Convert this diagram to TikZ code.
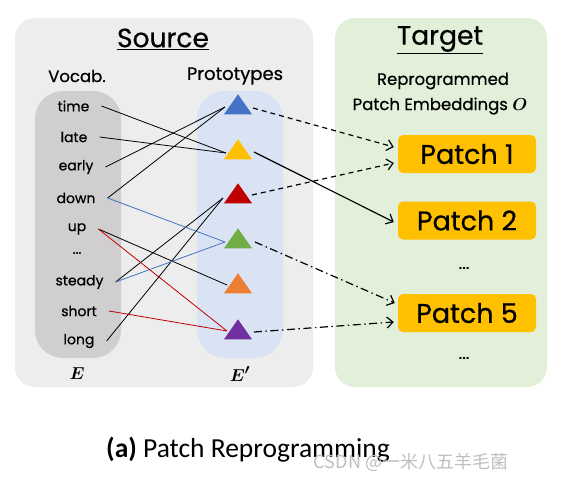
\documentclass[tikz,border=0pt]{standalone}
\usepackage{fontspec}
\usepackage{bm}
\setmainfont{Poppins}[FakeBold=0.6]
\newfontfamily\capfont{Carlito}
\newfontfamily\cjkfont{Noto Sans CJK SC}
\usetikzlibrary{arrows.meta,shapes.geometric,calc}
\definecolor{srcgray}{HTML}{EDEDED}
\definecolor{vocgray}{HTML}{D0CECE}
\definecolor{protoblue}{HTML}{DAE3F3}
\definecolor{tgtgreen}{HTML}{E2F0D9}
\definecolor{patchy}{HTML}{FFC000}
\definecolor{tblue}{HTML}{4472C4}
\definecolor{tyellow}{HTML}{FFC000}
\definecolor{tred}{HTML}{C00000}
\definecolor{tgreen}{HTML}{70AD47}
\definecolor{torange}{HTML}{ED7D31}
\definecolor{tpurple}{HTML}{7030A0}
\begin{document}
\begin{tikzpicture}[x=1pt,y=-1pt,
  panel/.style={rounded corners=20pt, draw=none, inner sep=0pt},
  colbox/.style={rounded corners=28pt, draw=none, inner sep=0pt, minimum width=86pt, minimum height=267pt},
  title/.style={font=\fontsize{26.5}{30}\selectfont, inner sep=0pt},
  head/.style={font=\fontsize{16.5}{19}\selectfont, inner sep=0pt},
  word/.style={font=\fontsize{14}{16}\selectfont, inner ysep=0pt, inner xsep=12pt},
  tri/.style={isosceles triangle, isosceles triangle apex angle=70, isosceles triangle stretches,
    shape border rotate=90, minimum width=28pt, minimum height=20pt, inner sep=0pt, fill=#1, draw=none},
  patch/.style={fill=patchy, rounded corners=5pt, minimum width=138pt, minimum height=38pt, inner sep=0pt,
    font=\fontsize{27}{30}\selectfont},
  link/.style={line width=0.8pt},
  arr/.style={line width=1.2pt, -{Straight Barb[length=6pt,width=11pt]}},
  dsh/.style={arr, dash pattern=on 5pt off 4pt},
  dshdot/.style={arr, dash pattern=on 8pt off 3.5pt on 1.5pt off 3.5pt},
  mathlbl/.style={inner sep=0pt, font=\fontsize{19}{22}\selectfont}
]
\useasboundingbox (0,0) rectangle (570,482);
\fill[white] (0,0) rectangle (570,482);

% panels
\node[panel, fill=srcgray, minimum width=298pt, minimum height=369pt] (src) at (164,202.5) {};
\node[panel, fill=tgtgreen, minimum width=212pt, minimum height=369pt] (tgt) at (441,202.5) {};
\node[colbox, fill=vocgray] (vbox) at (78,224.5) {};
\node[colbox, fill=protoblue] (pbox) at (240,224.5) {};

% titles
\node[title] (srct) at (163,39) {\underline{Source}};
\node[title] (tgtt) at (440,40) {\underline{Target}};
\node[head] (voc) at (77,76) {Vocab.};
\node[head, font=\fontsize{18}{20}\selectfont] (pro) at (235,76) {Prototypes};
\node[head] (rep1) at (443,81) {Reprogrammed};
\node[head] (rep2) at (440,106) {Patch Embeddings $\bm{O}$};
\node[mathlbl] (E) at (77,374) {$\bm{E}$};
\node[mathlbl] (Ep) at (240,374) {$\bm{E'}$};

% words
\node[word] (time) at (73.5,106) {time};
\node[word] (late) at (74,137) {late};
\node[word] (early) at (76,167) {early};
\node[word] (down) at (76,198) {down};
\node[word] (up) at (77,229) {up};
\node[word] (wdots) at (77,253) {...};
\node[word] (steady) at (79.5,282) {steady};
\node[word] (short) at (79,311) {short};
\node[word] (long) at (79,341) {long};

% triangles
\node[tri=tblue] (tb) at (238,107) {};
\node[tri=tyellow] (ty) at (238,152) {};
\node[tri=tred] (tr) at (238,196) {};
\node[tri=tgreen] (tg) at (238,241) {};
\node[tri=torange] (to) at (238,286) {};
\node[tri=tpurple] (tp) at (238,332) {};

% patches
\node[patch] (p1) at (467,154) {Patch 1};
\node[patch] (p2) at (467,220.5) {Patch 2};
\node[head, font=\fontsize{17}{18}\selectfont] (pd1) at (464,268) {...};
\node[patch] (p5) at (467,313) {Patch 5};
\node[head, font=\fontsize{17}{18}\selectfont] (pd2) at (464,358) {...};

% links
\draw[link] (time.east) -- ($(ty)+(-12,1)$);
\draw[link] (late.east) -- ($(ty)+(-12,1)$);
\draw[link] (early.east) -- ($(tb)+(-13,0)$);
\draw[link] (down.east) -- ($(tb)+(-13,0)$);
\draw[link] (up.east) -- ($(to)+(-11,-1)$);
\draw[link] (steady.east) -- ($(tr)+(-15,2)$);
\draw[link] (long.east) -- ($(tr)+(-15,2)$);
\draw[link, tblue] (down.east) -- ($(tg)+(-13,1)$);
\draw[link, tblue] (steady.east) -- ($(tg)+(-13,1)$);
\draw[link, tred] (up.east) -- ($(tp)+(-11,-1)$);
\draw[link, tred] (short.east) -- ($(tp)+(-11,-1)$);

% arrows
\draw[dsh] ($(tb)+(15,1)$) -- ($(p1.west)+(-4,-7)$);
\draw[dsh] ($(tr)+(14,-1)$) -- ($(p1.west)+(-4,9)$);
\draw[arr] ($(ty)+(16,0)$) -- ($(p2.west)+(-4,1.5)$);
\draw[dshdot] ($(tg)+(17,1)$) -- ($(p5.west)+(-3,-10)$);
\draw[dshdot] ($(tp)+(16,0)$) -- ($(p5.west)+(-4,9)$);

% caption
\node[inner sep=0pt, font=\capfont\fontsize{27.5}{32}\selectfont] (cap) at (248,450) {\textbf{(a)} Patch Reprogramming};
\node[inner sep=0pt, text=black!25, font=\cjkfont\fontsize{18}{20}\selectfont] (wm) at (411,462) {CSDN @一米八五羊毛菌};
\end{tikzpicture}
\end{document}
